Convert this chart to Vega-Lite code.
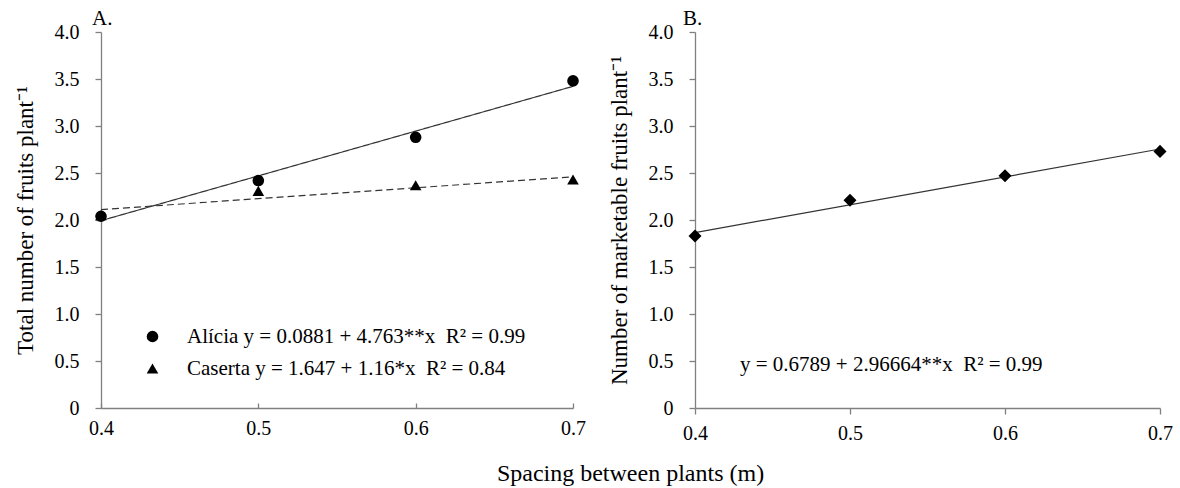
{
  "$schema": "https://vega.github.io/schema/vega-lite/v6.json",
  "background": "white",
  "padding": {"left": 14, "top": 8, "right": 5, "bottom": 5},
  "config": {
    "font": "Liberation Serif",
    "view": {"stroke": null},
    "axis": {
      "grid": false,
      "labelFlush": false,
      "labelOverlap": false,
      "domainColor": "#808080",
      "domainWidth": 1.3,
      "tickColor": "#808080",
      "tickWidth": 1.3,
      "labelFont": "Liberation Serif",
      "labelFontSize": 20,
      "labelColor": "black",
      "titleFont": "Liberation Serif",
      "titleFontSize": 23,
      "titleFontWeight": "normal",
      "titleColor": "black"
    },
    "title": {"font": "Liberation Serif", "fontWeight": "normal", "color": "black"}
  },
  "datasets": {
    "pointsA": [
      {"x": 0.4, "y": 2.05, "equation": "Caserta y = 1.647 + 1.16*x\u00a0 R² = 0.84"},
      {"x": 0.5, "y": 2.31, "equation": "Caserta y = 1.647 + 1.16*x\u00a0 R² = 0.84"},
      {"x": 0.6, "y": 2.37, "equation": "Caserta y = 1.647 + 1.16*x\u00a0 R² = 0.84"},
      {"x": 0.7, "y": 2.43, "equation": "Caserta y = 1.647 + 1.16*x\u00a0 R² = 0.84"},
      {"x": 0.4, "y": 2.04, "equation": "Alícia y = 0.0881 + 4.763**x\u00a0 R² = 0.99"},
      {"x": 0.5, "y": 2.42, "equation": "Alícia y = 0.0881 + 4.763**x\u00a0 R² = 0.99"},
      {"x": 0.6, "y": 2.88, "equation": "Alícia y = 0.0881 + 4.763**x\u00a0 R² = 0.99"},
      {"x": 0.7, "y": 3.48, "equation": "Alícia y = 0.0881 + 4.763**x\u00a0 R² = 0.99"}
    ],
    "fitA": [
      {"x": 0.4, "y": 1.993, "cultivar": "Alícia"},
      {"x": 0.7, "y": 3.422, "cultivar": "Alícia"},
      {"x": 0.4, "y": 2.111, "cultivar": "Caserta"},
      {"x": 0.7, "y": 2.459, "cultivar": "Caserta"}
    ],
    "pointsB": [
      {"x": 0.4, "y": 1.83},
      {"x": 0.5, "y": 2.21},
      {"x": 0.6, "y": 2.47},
      {"x": 0.7, "y": 2.73}
    ],
    "fitB": [
      {"x": 0.4, "y": 1.866},
      {"x": 0.7, "y": 2.755}
    ],
    "eqB": [
      {"label": "y = 0.6789 + 2.96664**x\u00a0 R² = 0.99"}
    ]
  },
  "bounds": "flush",
  "spacing": 122,
  "hconcat": [
    {
      "width": 472,
      "height": 376,
      "title": {"text": "A.", "anchor": "start", "frame": "group", "dx": -9, "offset": -7, "fontSize": 21},
      "encoding": {
        "x": {
          "field": "x", "type": "quantitative",
          "scale": {"domain": [0.4, 0.7], "nice": false, "zero": false},
          "axis": {
            "values": [0.4, 0.5, 0.6, 0.7], "format": ".1f", "tickSize": -5, "labelPadding": 15,
            "title": "Spacing between plants (m)",
            "titleFontSize": 24,
            "titleX": 529,
            "titleY": 72,
            "titleAlign": "center",
            "titleBaseline": "alphabetic"
          }
        },
        "y": {
          "field": "y", "type": "quantitative",
          "scale": {"domain": [0, 4], "nice": false},
          "axis": {
            "values": [0, 0.5, 1, 1.5, 2, 2.5, 3, 3.5, 4],
            "labelExpr": "datum.value === 0 ? '0' : format(datum.value, '.1f')",
            "title": "Total number of fruits plant⁻¹",
            "titlePadding": 17,
            "tickSize": 6,
            "labelPadding": 16
          }
        }
      },
      "layer": [
        {
          "data": {"name": "fitA"},
          "mark": {"type": "line", "color": "#333333", "strokeWidth": 1.2},
          "encoding": {
            "detail": {"field": "cultivar"},
            "strokeDash": {
              "field": "cultivar",
              "scale": {"domain": ["Alícia", "Caserta"], "range": [[1, 0], [7, 4]]},
              "legend": null
            }
          }
        },
        {
          "data": {"name": "pointsA"},
          "mark": {"type": "point", "filled": true, "color": "black", "opacity": 1, "size": 135},
          "encoding": {
            "shape": {
              "field": "equation",
              "scale": {
                "domain": ["Alícia y = 0.0881 + 4.763**x\u00a0 R² = 0.99", "Caserta y = 1.647 + 1.16*x\u00a0 R² = 0.84"],
                "range": ["circle", "triangle-up"]
              },
              "legend": {
                "orient": "none",
                "legendX": 41,
                "legendY": 294,
                "title": null,
                "padding": 0,
                "labelFont": "Liberation Serif",
                "labelFontSize": 21,
                "labelColor": "black",
                "labelLimit": 0,
                "labelOffset": 24,
                "rowPadding": 10,
                "symbolSize": 135,
                "symbolFillColor": "black",
                "symbolStrokeColor": "black",
                "symbolStrokeWidth": 0
              }
            }
          }
        }
      ]
    },
    {
      "width": 465,
      "height": 376,
      "title": {"text": "B.", "anchor": "start", "frame": "group", "dx": -12, "offset": -7, "fontSize": 21},
      "layer": [
        {
          "data": {"name": "fitB"},
          "mark": {"type": "line", "color": "#333333", "strokeWidth": 1.2},
          "encoding": {
            "x": {
              "field": "x", "type": "quantitative",
              "scale": {"domain": [0.4, 0.7], "nice": false, "zero": false},
              "axis": {"values": [0.4, 0.5, 0.6, 0.7], "format": ".1f", "title": null, "tickSize": 6, "labelPadding": 9}
            },
            "y": {
              "field": "y", "type": "quantitative",
              "scale": {"domain": [0, 4], "nice": false},
              "axis": {
                "values": [0, 0.5, 1, 1.5, 2, 2.5, 3, 3.5, 4],
                "labelExpr": "datum.value === 0 ? '0' : format(datum.value, '.1f')",
                "title": "Number of marketable fruits plant⁻¹",
                "titlePadding": 17,
                "tickSize": 6,
                "labelPadding": 16
              }
            }
          }
        },
        {
          "data": {"name": "pointsB"},
          "mark": {"type": "point", "shape": "diamond", "filled": true, "color": "black", "opacity": 1, "size": 170},
          "encoding": {
            "x": {"field": "x", "type": "quantitative"},
            "y": {"field": "y", "type": "quantitative"}
          }
        },
        {
          "data": {"name": "eqB"},
          "mark": {"type": "text", "align": "left", "baseline": "middle", "font": "Liberation Serif", "fontSize": 21, "color": "black"},
          "encoding": {
            "x": {"datum": 0.429, "type": "quantitative"},
            "y": {"datum": 0.46, "type": "quantitative"},
            "text": {"field": "label", "type": "nominal"}
          }
        }
      ]
    }
  ]
}
